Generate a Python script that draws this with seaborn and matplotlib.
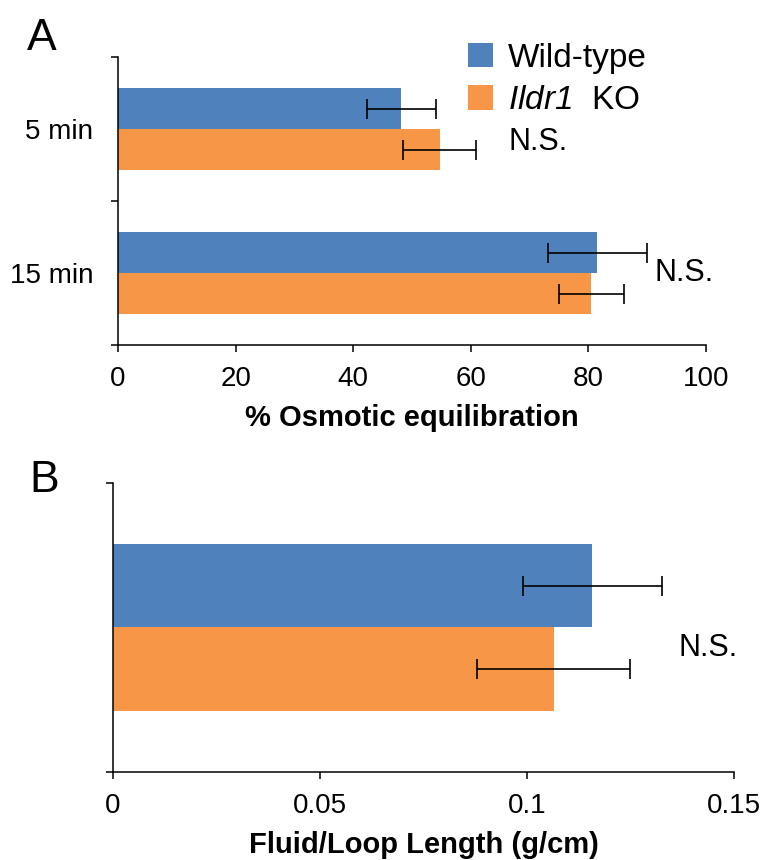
import numpy as np
import pandas as pd
import seaborn as sns
import matplotlib.pyplot as plt
from matplotlib.patches import Patch

# --- data ---
times = ['5 min', '15 min']
genotypes = ['Wild-type', 'Ildr1 KO']
wt_equil = [48.2, 81.5]
ko_equil = [54.7, 80.5]
wt_equil_err = [5.9, 8.45]
ko_equil_err = [6.2, 5.55]

fluid_cat = ['']
wt_fluid = [0.1158]
ko_fluid = [0.1064]
wt_fluid_err = [0.0168]
ko_fluid_err = [0.0185]

palette = {'Wild-type': '#4F81BD', 'Ildr1 KO': '#F79646'}

sns.set_theme(style='white')
plt.rcParams['font.family'] = ['Liberation Sans', 'DejaVu Sans']
plt.rcParams['mathtext.fontset'] = 'custom'
plt.rcParams['mathtext.it'] = 'Liberation Sans:italic'
plt.rcParams['mathtext.rm'] = 'Liberation Sans:italic'
for k in ['text.color', 'axes.labelcolor', 'xtick.color', 'ytick.color']:
    plt.rcParams[k] = 'black'


def long_frame(cats, wt, ko, wt_err, ko_err):
    rows = []
    for c, v, e in zip(cats, wt, wt_err):
        rows.append({'cat': c, 'genotype': 'Wild-type', 'value': v, 'err': e})
    for c, v, e in zip(cats, ko, ko_err):
        rows.append({'cat': c, 'genotype': 'Ildr1 KO', 'value': v, 'err': e})
    return pd.DataFrame(rows)


def draw_panel(ax, df, cats, width, xmax, xticks, xticklabels, xlabel):
    sns.barplot(data=df, y='cat', x='value', hue='genotype', order=cats,
                hue_order=genotypes, palette=palette, orient='h', width=width,
                errorbar=None, linewidth=0, saturation=1, ax=ax, legend=False)
    # error bars on top of each bar, taken from the bar patches
    for cont, g in zip(ax.containers, genotypes):
        errs = df[df['genotype'] == g].set_index('cat').loc[cats, 'err'].values
        for bar, e in zip(cont, errs):
            yc = bar.get_y() + bar.get_height() / 2
            ax.errorbar(bar.get_width(), yc, xerr=e, fmt='none', ecolor='black',
                        elinewidth=1.2, capsize=7, capthick=1.2, zorder=5)
    ax.set_xlim(0, xmax)
    ax.set_ylim(len(cats) - 0.5, -0.5)
    ax.set_xticks(xticks)
    ax.set_xticklabels(xticklabels)
    ax.set_yticks(np.arange(len(cats)))
    ax.set_yticklabels(cats)
    ax.set_yticks(np.arange(len(cats) + 1) - 0.5, minor=True)
    ax.tick_params(axis='y', which='major', length=0, pad=18, labelsize=20)
    ax.tick_params(axis='y', which='minor', length=5, width=1.1, color='black', direction='out', left=True)
    ax.tick_params(axis='x', which='major', length=5, width=1.1, color='black', direction='out',
                   bottom=True, pad=10, labelsize=20)
    ax.set_ylabel('')
    ax.set_xlabel(xlabel, fontsize=21, fontweight='bold', labelpad=9)
    for side in ['top', 'right']:
        ax.spines[side].set_visible(False)
    for side in ['left', 'bottom']:
        ax.spines[side].set_color('black')
        ax.spines[side].set_linewidth(1.1)


fig = plt.figure(figsize=(7.63, 8.60), dpi=100)
ax_a = fig.add_axes([0.1547, 0.5988, 0.7706, 0.3349])
ax_b = fig.add_axes([0.1481, 0.1023, 0.8139, 0.3361])

df_a = long_frame(times, wt_equil, ko_equil, wt_equil_err, ko_equil_err)
draw_panel(ax_a, df_a, times, 0.57, 100, [0, 20, 40, 60, 80, 100],
           ['0', '20', '40', '60', '80', '100'], '% Osmotic equilibration')

df_b = long_frame(fluid_cat, wt_fluid, ko_fluid, wt_fluid_err, ko_fluid_err)
draw_panel(ax_b, df_b, fluid_cat, 0.575, 0.15, [0, 0.05, 0.1, 0.15],
           ['0', '0.05', '0.1', '0.15'], 'Fluid/Loop Length (g/cm)')

# N.S. annotations
ax_a.text(66.4, 0.09, 'N.S.', fontsize=22, va='center', ha='left')
ax_a.text(91.3, 1.0, 'N.S.', fontsize=22, va='center', ha='left')
ax_b.text(0.1365, 0.07, 'N.S.', fontsize=22, va='center', ha='left')

# legend
handles = [Patch(facecolor=palette['Wild-type'], edgecolor='none'),
           Patch(facecolor=palette['Ildr1 KO'], edgecolor='none')]
labels = ['Wild-type', r'$\mathit{Ildr1}$  KO']
ax_a.legend(handles, labels, loc='upper left', bbox_to_anchor=(0.595, 1.05),
            frameon=False, fontsize=24, handlelength=0.75, handleheight=0.75,
            handletextpad=0.45, labelspacing=0.35, borderpad=0, borderaxespad=0)

# panel letters
fig.text(27 / 763, 1 - 50 / 860, 'A', fontsize=32, va='baseline', ha='left')
fig.text(29 / 763, 1 - 492 / 860, 'B', fontsize=32, va='baseline', ha='left')

plt.savefig('out.png', dpi=100)
